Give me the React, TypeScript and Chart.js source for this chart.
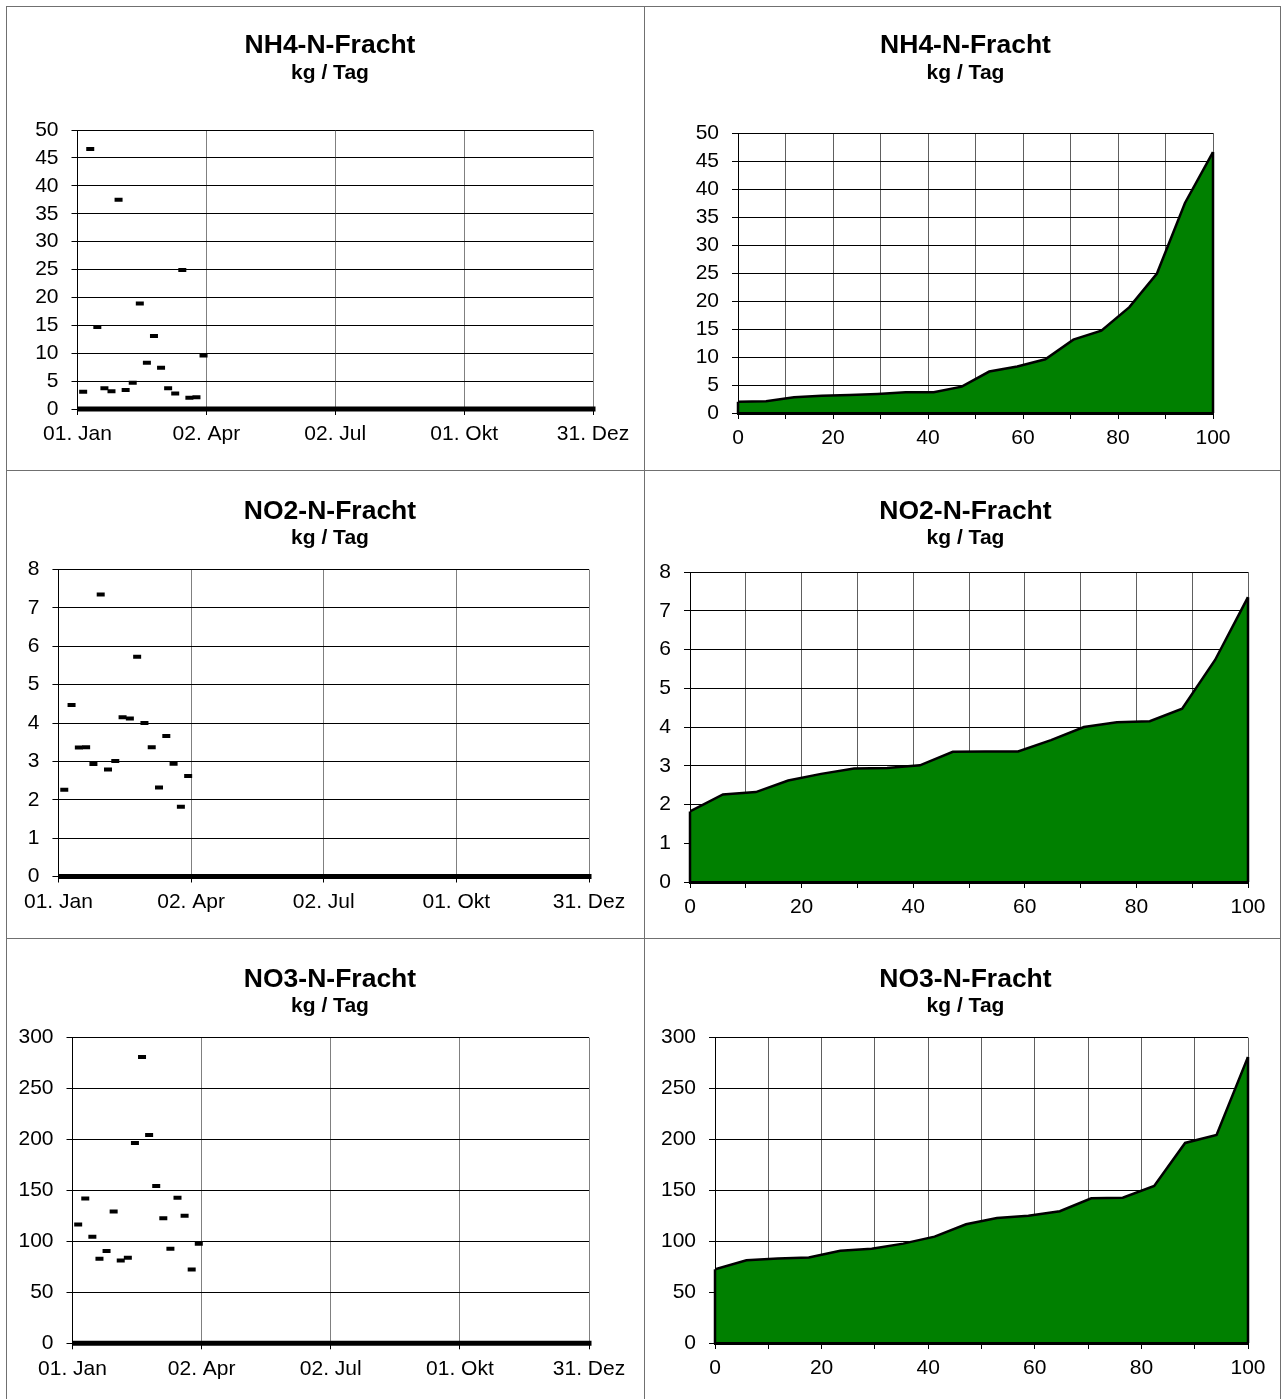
import React, { useEffect, useRef } from "react";
import { Chart, registerables } from "chart.js";

Chart.register(...registerables);

// ---------------- data ----------------
const sampleDays = [4, 9, 14, 19, 24, 29, 34, 39, 44, 49, 54, 59, 64, 69, 74, 79, 84, 89];
const nh4Values = [3.1, 46.6, 14.7, 3.7, 3.2, 37.5, 3.4, 4.7, 18.9, 8.3, 13.1, 7.4, 3.7, 2.8, 24.9, 2.0, 2.1, 9.6];
const no2Values = [2.26, 4.47, 3.36, 3.37, 2.93, 7.35, 2.79, 3.01, 4.15, 4.12, 5.73, 4.0, 3.37, 2.32, 3.66, 2.94, 1.82, 2.62];
const no3Values = [116.6, 142.2, 104.5, 82.9, 90.7, 129.4, 81.2, 83.9, 196.5, 281.0, 204.4, 154.3, 122.8, 92.7, 142.8, 125.1, 72.4, 97.6];

const percentiles = [0, 5.9, 11.8, 17.6, 23.5, 29.4, 35.3, 41.2, 47.1, 52.9, 58.8, 64.7, 70.6, 76.5, 82.4, 88.2, 94.1, 100];
const nh4Sorted = [2.0, 2.1, 2.8, 3.1, 3.2, 3.4, 3.7, 3.7, 4.7, 7.4, 8.3, 9.6, 13.1, 14.7, 18.9, 24.9, 37.5, 46.6];
const no2Sorted = [1.82, 2.26, 2.32, 2.62, 2.79, 2.93, 2.94, 3.01, 3.36, 3.37, 3.37, 3.66, 4.0, 4.12, 4.15, 4.47, 5.73, 7.35];
const no3Sorted = [72.4, 81.2, 82.9, 83.9, 90.7, 92.7, 97.6, 104.5, 116.6, 122.8, 125.1, 129.4, 142.2, 142.8, 154.3, 196.5, 204.4, 281.0];

const dateTickDays = [0, 91, 182, 273, 364];
const dateTickLabels = ["01. Jan", "02. Apr", "02. Jul", "01. Okt", "31. Dez"];
const yearSpanDays = [0, 364];

const titles = ["NH4-N-Fracht", "NO2-N-Fracht", "NO3-N-Fracht"];
const unitLabel = "kg / Tag";
const yMaxes = [50, 8, 300];
const ySteps = [5, 1, 50];
const percentTicksMax = 100;

// ---------------- styling / layout ----------------
const FONT = '"Liberation Sans", Arial, Helvetica, sans-serif';
const TICK_FONT = { family: FONT, size: 21 };
const GREEN = "#008000";
const FRAME = "#707070";

type Geo = {
  left: number; top: number; width: number; height: number;
  titleTop: number; titleBottom: number; subBottom: number; yW: number; xH: number; rightPad: number;
};

const LEFT_X = 17, LEFT_W = 626, RIGHT_X = 652, RIGHT_W = 627;
const geos: Geo[][] = [
  [
    { left: LEFT_X, top: 7, width: LEFT_W, height: 462, titleTop: 23, titleBottom: -1, subBottom: 44.1, yW: 60.5, xH: 60, rightPad: 50 },
    { left: RIGHT_X, top: 7, width: RIGHT_W, height: 462, titleTop: 23, titleBottom: -1, subBottom: 47, yW: 86, xH: 56, rightPad: 66 },
  ],
  [
    { left: LEFT_X, top: 471, width: LEFT_W, height: 466, titleTop: 24.6, titleBottom: -2, subBottom: 19, yW: 40.5, xH: 60.5, rightPad: 54 },
    { left: RIGHT_X, top: 471, width: RIGHT_W, height: 466, titleTop: 24.6, titleBottom: -2, subBottom: 21.4, yW: 38, xH: 55, rightPad: 31 },
  ],
  [
    { left: LEFT_X, top: 939, width: LEFT_W, height: 460, titleTop: 24.6, titleBottom: -2, subBottom: 19, yW: 55.5, xH: 55.7, rightPad: 54 },
    { left: RIGHT_X, top: 939, width: RIGHT_W, height: 460, titleTop: 24.6, titleBottom: -2, subBottom: 19, yW: 63, xH: 56, rightPad: 31 },
  ],
];

const areaEdgePlugin = {
  id: "areaEdge",
  afterDatasetsDraw(chart: any) {
    const ds = chart.data.datasets[0];
    if (!ds || !ds.fill) return;
    const meta = chart.getDatasetMeta(0);
    const pts = meta.data;
    if (!pts || pts.length === 0) return;
    const base = chart.scales.y.getPixelForValue(0);
    const ctx = chart.ctx;
    ctx.save();
    ctx.strokeStyle = "#000";
    ctx.lineWidth = 2.5;
    for (const el of [pts[0], pts[pts.length - 1]]) {
      ctx.beginPath();
      ctx.moveTo(el.x, el.y);
      ctx.lineTo(el.x, base);
      ctx.stroke();
    }
    ctx.restore();
  },
};

function commonOptions(row: number, g: Geo) {
  return {
    responsive: false,
    animation: false,
    events: [],
    layout: { padding: 0 },
    plugins: {
      legend: { display: false },
      tooltip: { enabled: false },
      title: {
        display: true,
        text: titles[row],
        color: "#000",
        font: { family: FONT, size: 26.5, weight: "bold" },
        padding: { top: g.titleTop, bottom: g.titleBottom },
      },
      subtitle: {
        display: true,
        text: unitLabel,
        color: "#000",
        font: { family: FONT, size: 21, weight: "bold" },
        padding: { top: 0, bottom: g.subBottom },
      },
    },
  };
}

function padScale(g: Geo) {
  return {
    type: "linear",
    position: "right",
    display: true,
    grid: { display: false, drawTicks: false },
    ticks: { display: false },
    border: { display: false },
    afterFit: (s: any) => { s.width = g.rightPad; },
  };
}

function yScale(row: number, g: Geo, onTop: boolean) {
  return {
    type: "linear",
    min: 0,
    max: yMaxes[row],
    ticks: { stepSize: ySteps[row], font: TICK_FONT, color: "#000", padding: 13, autoSkip: false },
    grid: { color: "#000", tickColor: "#000", tickLength: 6, lineWidth: 1 },
    border: { color: "#000", width: 1, z: onTop ? 1 : 0 },
    afterFit: (s: any) => { s.width = g.yW; },
  };
}

function scatterConfig(row: number, g: Geo, values: number[]) {
  const base = commonOptions(row, g);
  return {
    type: "scatter",
    data: {
      datasets: [
        {
          data: sampleDays.map((d, i) => ({ x: d, y: values[i] })),
          showLine: false,
          pointStyle: "line",
          pointRadius: 4,
          pointBorderWidth: 4,
          pointBorderColor: "#000",
          pointBackgroundColor: "#000",
        },
        {
          data: yearSpanDays.map((d) => ({ x: d, y: 0 })),
          showLine: true,
          borderColor: "#000",
          borderWidth: 5,
          borderCapStyle: "square",
          pointRadius: 0,
          clip: { left: 0, top: 0, right: 8, bottom: 8 },
        },
      ],
    },
    options: {
      ...base,
      scales: {
        x: {
          type: "linear",
          min: dateTickDays[0],
          max: dateTickDays[dateTickDays.length - 1],
          afterBuildTicks: (s: any) => { s.ticks = dateTickDays.map((v) => ({ value: v })); },
          ticks: {
            font: TICK_FONT,
            color: "#000",
            padding: 7,
            maxRotation: 0,
            minRotation: 0,
            autoSkip: false,
            callback: (v: any) => {
              const i = dateTickDays.indexOf(Number(v));
              return i >= 0 ? dateTickLabels[i] : "";
            },
          },
          grid: { color: "#808080", tickColor: "#000", tickLength: 6, lineWidth: 1 },
          border: { color: "#000", width: 1 },
          afterFit: (s: any) => { s.height = g.xH; },
        },
        y: yScale(row, g, false),
        pad: padScale(g),
      },
    },
  };
}

function areaConfig(row: number, g: Geo, sorted: number[]) {
  const base = commonOptions(row, g);
  return {
    type: "line",
    data: {
      datasets: [
        {
          data: percentiles.map((p, i) => ({ x: p, y: sorted[i] })),
          fill: "origin",
          backgroundColor: GREEN,
          borderColor: "#000",
          borderWidth: 2.5,
          pointRadius: 0,
          tension: 0,
        },
      ],
    },
    options: {
      ...base,
      scales: {
        x: {
          type: "linear",
          min: 0,
          max: percentTicksMax,
          ticks: {
            stepSize: 10,
            font: TICK_FONT,
            color: "#000",
            padding: 7,
            maxRotation: 0,
            minRotation: 0,
            autoSkip: false,
            callback: (v: any) => (Number(v) % 20 === 0 ? String(v) : ""),
          },
          grid: { color: "#606060", tickColor: "#000", tickLength: 6, lineWidth: 1 },
          border: { color: "#000", width: 3, z: 1 },
          afterFit: (s: any) => { s.height = g.xH; },
        },
        y: yScale(row, g, true),
        pad: padScale(g),
      },
    },
    plugins: [areaEdgePlugin],
  };
}

function ChartCanvas({ g, config }: { g: Geo; config: () => any }) {
  const ref = useRef<HTMLCanvasElement | null>(null);
  useEffect(() => {
    if (!ref.current) return;
    const chart = new Chart(ref.current, config());
    return () => chart.destroy();
  }, []);
  return (
    <canvas
      ref={ref}
      width={g.width}
      height={g.height}
      style={{ position: "absolute", left: g.left, top: g.top, width: g.width, height: g.height }}
    />
  );
}

const scatterValues = [nh4Values, no2Values, no3Values];
const sortedValues = [nh4Sorted, no2Sorted, no3Sorted];

export default function App() {
  const vLines = [6, 644, 1280];
  const hLines = [6, 470, 938];
  return (
    <div style={{ position: "absolute", left: 0, top: 0, width: 1282, height: 1399, background: "#fff", overflow: "hidden" }}>
      {[0, 1, 2].map((row) => (
        <React.Fragment key={row}>
          <ChartCanvas g={geos[row][0]} config={() => scatterConfig(row, geos[row][0], scatterValues[row])} />
          <ChartCanvas g={geos[row][1]} config={() => areaConfig(row, geos[row][1], sortedValues[row])} />
        </React.Fragment>
      ))}
      {vLines.map((x) => (
        <div key={"v" + x} style={{ position: "absolute", left: x, top: 6, width: 1, height: 1399 - 6, background: FRAME }} />
      ))}
      {hLines.map((y) => (
        <div key={"h" + y} style={{ position: "absolute", left: 6, top: y, width: 1280 - 6 + 1, height: 1, background: FRAME }} />
      ))}
    </div>
  );
}
